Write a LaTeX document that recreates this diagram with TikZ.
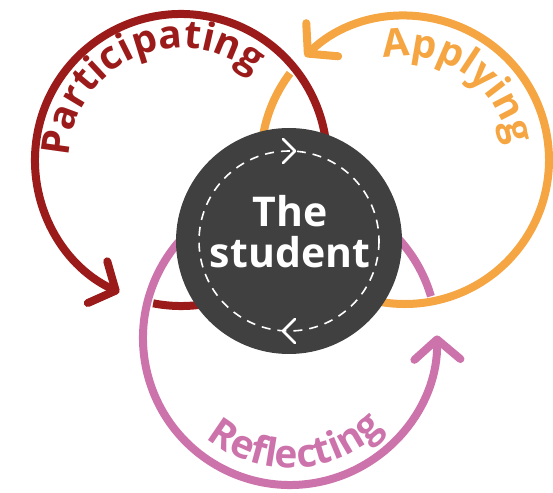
\documentclass[tikz,border=0pt]{standalone}
\usepackage{fontspec}
\setmainfont{Open Sans}
\usetikzlibrary{arrows.meta,decorations.text,decorations.markings,calc}
\definecolor{cRed}{HTML}{9B1B1B}
\definecolor{cOrange}{HTML}{F5A541}
\definecolor{cPink}{HTML}{CD73AC}
\definecolor{cDark}{HTML}{404040}
\begin{document}
\begin{tikzpicture}[x=1pt,y=1pt,
  ring/.style={line width=8pt},
  bigtip/.style={-{Straight Barb[length=20pt,width=46pt,round]}},
  chev/.style={solid,white,line width=2.6pt,line cap=round,line join=round},
  curvetext/.style={decorate,decoration={text along path,text align=center,text={#1}}}]
\useasboundingbox (0,0) rectangle (553,492);
\coordinate (cr) at (181,332);
\coordinate (co) at (405,332);
\coordinate (cp) at (290,154);
\coordinate (cs) at (289,251);
% rings
\draw[ring,cOrange,bigtip] ($(co)+(143:144)$) arc[start angle=143,end angle=494,radius=144];
\draw[ring,cRed,bigtip] ($(cr)+(259:146)$) arc[start angle=259,end angle=605,radius=146];
\draw[ring,cPink,bigtip] ($(cp)+(16.5:147)$) arc[start angle=16.5,end angle=361,radius=147];
% centre
\node[circle,fill=cDark,minimum size=226pt,inner sep=0pt] (stu) at (cs) {};
\draw[white,line width=1.6pt,dash pattern=on 9pt off 7pt,
  postaction={decorate,decoration={markings,
    mark=at position 0.25 with {\draw[chev] (-6,12) -- (6,0) -- (-6,-12);},
    mark=at position 0.75 with {\draw[chev] (-6,12) -- (6,0) -- (-6,-12);}}}]
  ($(cs)+(0:90)$) arc[start angle=360,end angle=0,radius=90];
\node[text=white,font=\bfseries\fontsize{41}{41}\selectfont,anchor=base,inner sep=0pt] (t1) at (290,265) {The};
\node[text=white,font=\bfseries\fontsize{41}{41}\selectfont,anchor=base,inner sep=0pt] (t2) at (290,224) {student};
% curved labels
\path[curvetext={|\color{cRed}\bfseries\fontsize{39}{40}\selectfont|Participating}]
  ($(cr)+(184:112)$) arc[start angle=184,end angle=44,radius=112];
\path[curvetext={|\color{cOrange}\bfseries\fontsize{39}{40}\selectfont|Applying}]
  ($(co)+(125:104)$) arc[start angle=125,end angle=-15,radius=104];
\path[curvetext={|\color{cPink}\bfseries\fontsize{39}{40}\selectfont|Reflecting}]
  ($(cp)+(208:130)$) arc[start angle=208,end angle=338,radius=130];
\end{tikzpicture}
\end{document}
